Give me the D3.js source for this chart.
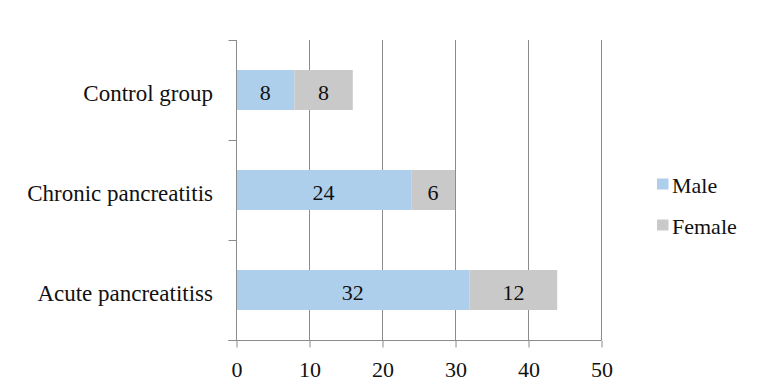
<!DOCTYPE html>
<html>
<head>
<meta charset="utf-8">
<script src="https://cdn.jsdelivr.net/npm/d3@7"></script>
<style>
  body { margin: 0; background: #fff; }
  svg text { font-family: "Liberation Serif", "Times New Roman", serif; fill: #111; }
</style>
</head>
<body>
<svg id="chart" width="764" height="387"></svg>
<script>
// Patient groups, top to bottom
const categories = ["Control group", "Chronic pancreatitis", "Acute pancreatitiss"];
const seriesNames = ["Male", "Female"];
const maleValues = [8, 24, 32];
const femaleValues = [8, 6, 12];
const xTicks = [0, 10, 20, 30, 40, 50];
const colors = ["#aecfeb", "#c9c9c9"];

const svg = d3.select("#chart");
const plot = { left: 236, right: 601, top: 40, bottom: 340 };

const x = d3.scaleLinear().domain([0, 50]).range([plot.left, plot.right]);
const y = d3.scaleBand().domain(categories).range([plot.top, plot.bottom]).paddingInner(0.6).paddingOuter(0.3);

// vertical gridlines
svg.append("g").selectAll("line").data(xTicks.slice(1)).join("line")
  .attr("x1", d => x(d) + 0.5).attr("x2", d => x(d) + 0.5)
  .attr("y1", plot.top).attr("y2", plot.bottom)
  .attr("stroke", "#8c8c8c").attr("stroke-width", 1);

// stacked bars
const rows = categories.map((c, i) => ({ cat: c, vals: [maleValues[i], femaleValues[i]] }));
const segs = [];
rows.forEach(r => {
  let acc = 0;
  r.vals.forEach((v, k) => { segs.push({ cat: r.cat, k, x0: acc, x1: acc + v, v }); acc += v; });
});

svg.append("g").selectAll("rect").data(segs).join("rect")
  .attr("x", d => x(d.x0)).attr("width", d => x(d.x1) - x(d.x0))
  .attr("y", d => y(d.cat)).attr("height", y.bandwidth())
  .attr("fill", d => colors[d.k]);

svg.append("g").selectAll("text").data(segs).join("text")
  .attr("x", d => (x(d.x0) + x(d.x1)) / 2)
  .attr("y", d => y(d.cat) + y.bandwidth() / 2 + 10)
  .attr("text-anchor", "middle")
  .attr("font-size", 22)
  .text(d => d.v);

// category axis
const yAxis = d3.axisLeft(d3.scalePoint().domain([0, 1, 2, 3]).range([plot.top, plot.bottom]))
  .tickSize(8).tickFormat("");
const ya = svg.append("g").attr("transform", `translate(${plot.left + 0.5},0)`).call(yAxis);
ya.select(".domain").remove();
ya.selectAll(".tick line").attr("stroke", "#8c8c8c");
ya.append("line").attr("x1", 0).attr("x2", 0).attr("y1", plot.top).attr("y2", plot.bottom).attr("stroke", "#8c8c8c");

svg.append("g").selectAll("text").data(categories).join("text")
  .attr("x", 213).attr("y", d => y(d) + y.bandwidth() / 2 + 10.5)
  .attr("text-anchor", "end")
  .attr("font-size", 23)
  .text(d => d);

// value axis
const xAxis = d3.axisBottom(x).tickValues(xTicks).tickSize(7).tickFormat(d3.format("d"));
const xa = svg.append("g").attr("transform", `translate(0.5,${plot.bottom + 0.5})`).call(xAxis);
xa.select(".domain").remove();
xa.selectAll(".tick line").attr("stroke", "#8c8c8c");
xa.append("line").attr("x1", 228).attr("x2", plot.right).attr("y1", 0).attr("y2", 0).attr("stroke", "#8c8c8c");
xa.selectAll(".tick text").attr("y", 36.5).attr("dy", null)
  .attr("font-size", 22).attr("font-family", "Liberation Serif").attr("fill", "#111");

// legend
const lg = svg.append("g").attr("transform", "translate(657,178.5)");
const items = lg.selectAll("g").data(seriesNames).join("g")
  .attr("transform", (d, i) => `translate(0,${i * 41})`);
items.append("rect").attr("width", 11.5).attr("height", 11).attr("fill", (d, i) => colors[i]);
items.append("text").attr("x", 15).attr("y", 14.5).attr("font-size", 22).text(d => d);
</script>
</body>
</html>
